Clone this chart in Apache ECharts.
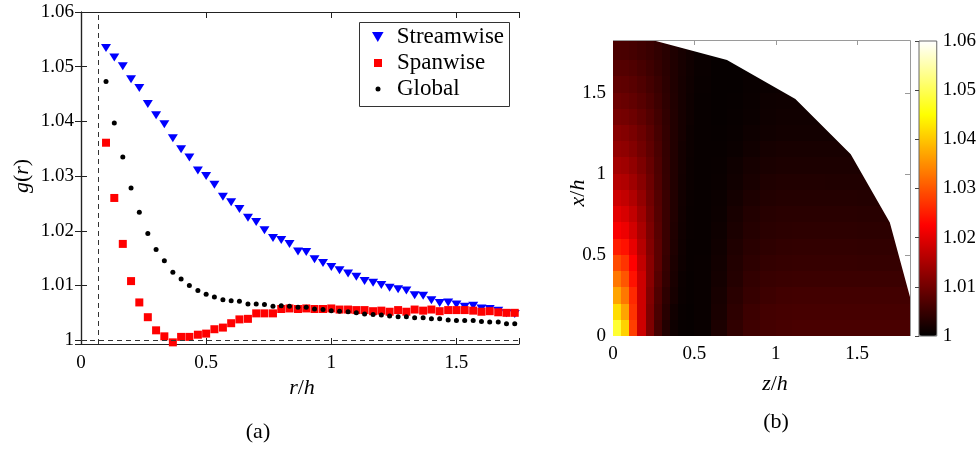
<!DOCTYPE html>
<html><head><meta charset="utf-8">
<script src="https://cdn.jsdelivr.net/npm/echarts@6/dist/echarts.min.js"></script>
<style>html,body{margin:0;padding:0;background:#fff}#c{width:979px;height:450px}</style>
</head><body><div id="c"></div>
<script>
// ---------- panel (a) data ----------
const rOverH = [0.100,0.133,0.167,0.200,0.233,0.267,0.300,0.333,0.367,0.400,
  0.433,0.467,0.500,0.533,0.567,0.600,0.633,0.667,0.700,0.733,
  0.767,0.800,0.833,0.867,0.900,0.933,0.967,1.000,1.033,1.067,
  1.100,1.133,1.167,1.200,1.233,1.267,1.300,1.333,1.367,1.400,
  1.433,1.467,1.500,1.533,1.567,1.600,1.633,1.667,1.700,1.733];
const gStreamwise = [1.0534,1.0517,1.0501,1.0477,1.0461,1.0432,1.0411,1.0395,1.0369,1.0349,
  1.0334,1.0310,1.0300,1.0284,1.0262,1.0252,1.0240,1.0224,1.0216,1.0201,
  1.0187,1.0183,1.0176,1.0162,1.0161,1.0148,1.0141,1.0134,1.0128,1.0122,
  1.0116,1.0108,1.0105,1.0101,1.0096,1.0093,1.0091,1.0082,1.0081,1.0073,
  1.0068,1.0069,1.0065,1.0061,1.0063,1.0058,1.0057,1.0054,1.0049,1.0048];
const gSpanwise = [1.0361,1.0260,1.0176,1.0108,1.0069,1.0042,1.0018,1.0007,0.9996,1.0006,
  1.0006,1.0010,1.0012,1.0020,1.0023,1.0031,1.0038,1.0039,1.0049,1.0049,
  1.0049,1.0057,1.0058,1.0057,1.0058,1.0057,1.0057,1.0058,1.0056,1.0056,
  1.0055,1.0055,1.0053,1.0054,1.0052,1.0055,1.0052,1.0056,1.0054,1.0056,
  1.0053,1.0055,1.0055,1.0055,1.0054,1.0052,1.0053,1.0051,1.0050,1.0050];
const gGlobal = [1.0473,1.0397,1.0335,1.0278,1.0234,1.0195,1.0166,1.0145,1.0124,1.0112,
  1.0100,1.0091,1.0084,1.0079,1.0074,1.0072,1.0071,1.0066,1.0066,1.0065,
  1.0062,1.0063,1.0062,1.0060,1.0060,1.0057,1.0056,1.0054,1.0053,1.0052,
  1.0050,1.0048,1.0047,1.0046,1.0044,1.0043,1.0043,1.0041,1.0041,1.0039,
  1.0039,1.0037,1.0036,1.0036,1.0036,1.0034,1.0033,1.0033,1.0030,1.0030];
const seriesNames = ['Streamwise','Spanwise','Global'];
const cutoffR = 0.073;
const baselineG = 1;

// ---------- panel (b) data ----------
const zEdges = [0,0.05,0.1,0.15,0.2,0.25,0.3,0.35,0.4,0.45,0.5,0.6,0.7,0.8,0.9,1.0,1.1,1.3,1.5,1.7,1.824];
const xEdges = [0,0.1,0.2,0.3,0.4,0.5,0.6,0.7,0.8,0.9,1.0,1.1,1.2,1.3,1.4,1.5,1.6,1.7,1.824];
const gMap = [
 [1.048,1.041,1.028,1.018,1.011,1.006,1.003,1.0012,1.0006,1.0005,1.0008,1.0025,1.0042,1.0055,1.006,1.0063,1.0064,1.0064,1.0064,1.0064],
 [1.042,1.037,1.027,1.018,1.011,1.0065,1.0035,1.0015,1.0007,1.0005,1.0008,1.0022,1.004,1.0053,1.0059,1.0061,1.0062,1.0062,1.0062,1.0062],
 [1.037,1.033,1.026,1.018,1.0115,1.007,1.004,1.002,1.0009,1.0006,1.0008,1.002,1.0036,1.0048,1.0054,1.0057,1.0058,1.0058,1.0058,1.0058],
 [1.033,1.030,1.024,1.018,1.012,1.0075,1.0045,1.0023,1.001,1.0006,1.0008,1.0018,1.0032,1.0044,1.0049,1.0051,1.0052,1.0052,1.0052,1.0052],
 [1.029,1.027,1.0225,1.017,1.012,1.008,1.0048,1.0025,1.0012,1.0007,1.0008,1.0016,1.003,1.004,1.0045,1.0047,1.0048,1.0048,1.0047,1.0047],
 [1.025,1.024,1.0205,1.016,1.0115,1.008,1.005,1.0027,1.0013,1.0007,1.0007,1.0014,1.0027,1.0036,1.0041,1.0043,1.0044,1.0044,1.0043,1.0043],
 [1.022,1.021,1.0185,1.015,1.011,1.0078,1.005,1.0028,1.0014,1.0008,1.0007,1.0012,1.0024,1.0033,1.0037,1.0039,1.004,1.004,1.0039,1.0039],
 [1.020,1.019,1.017,1.014,1.0105,1.0075,1.005,1.003,1.0015,1.0008,1.0007,1.0011,1.0021,1.003,1.0034,1.0036,1.0036,1.0036,1.0035,1.0035],
 [1.018,1.0172,1.0155,1.013,1.010,1.0073,1.005,1.003,1.0016,1.0009,1.0007,1.001,1.0018,1.0026,1.003,1.0032,1.0032,1.0032,1.0031],
 [1.016,1.0155,1.014,1.012,1.0095,1.007,1.0048,1.003,1.0017,1.001,1.0007,1.0009,1.0015,1.0022,1.0027,1.0029,1.0029,1.0028,1.0028],
 [1.0145,1.014,1.0128,1.011,1.009,1.0068,1.0047,1.003,1.0018,1.001,1.0007,1.0008,1.0013,1.0019,1.0023,1.0025,1.0025,1.0025,1.0024],
 [1.013,1.0126,1.0116,1.0101,1.0084,1.0065,1.0046,1.003,1.0018,1.0011,1.0007,1.0007,1.001,1.0015,1.0019,1.0021,1.0021,1.0021],
 [1.012,1.0116,1.0107,1.0094,1.0079,1.0062,1.0045,1.003,1.0019,1.0011,1.0007,1.0006,1.0008,1.0012,1.0015,1.0017,1.0017,1.0017],
 [1.0105,1.0102,1.0095,1.0085,1.0072,1.0058,1.0043,1.003,1.0019,1.0012,1.0007,1.0005,1.0007,1.001,1.0013,1.0015,1.0015],
 [1.0095,1.0092,1.0086,1.0077,1.0066,1.0054,1.0041,1.0029,1.0019,1.0012,1.0007,1.0005,1.0006,1.0009,1.0012,1.0013,1.0013],
 [1.0085,1.0083,1.0078,1.007,1.006,1.005,1.0039,1.0028,1.0019,1.0013,1.0008,1.0005,1.0005,1.0008,1.001,1.0011],
 [1.0075,1.0074,1.007,1.0063,1.0055,1.0046,1.0037,1.0028,1.002,1.0014,1.0009,1.0005,1.0005,1.0007],
 [1.0065,1.0064,1.0061,1.0056,1.005,1.0043,1.0035,1.0027,1.002,1.0015,1.001,1.0006]
];
const boundaryZ = [0.24,0.70,1.12,1.46,1.70,1.824];
const boundaryX = [1.824,1.70,1.46,1.12,0.70,0.24];
const domainMax = 1.824;
const mapTicks = [0.5, 1, 1.5];
const gMin = 1, gMax = 1.06;
const hotColors = ['#000000','#550000','#aa0000','#ff0000','#ff5500','#ffaa00','#ffff00','#ffff80','#ffffff'];

// ---------- build ----------
const FONT = 'Liberation Serif';
const TRI = 'path://M0,0L10,0L5,8.66Z';
const pts = arr => rOverH.map((r, i) => [r, arr[i]]);
const cells = [];
gMap.forEach((row, i) => row.forEach((g, j) => {
  cells.push([zEdges[j], zEdges[j + 1], xEdges[i], xEdges[i + 1], g]);
}));
const fmt = step => v => {
  const k = v / step;
  return Math.abs(k - Math.round(k)) < 1e-6 ? String(+(Math.round(k) * step).toFixed(4)) : '';
};
const tick = (len, col) => ({ show: true, inside: true, length: len, lineStyle: { color: col, width: 1 } });
const labelStyle = (m, extra) => Object.assign({ fontFamily: FONT, fontSize: 19, color: '#000', margin: m }, extra || {});
const rich = {
  i: { fontFamily: FONT, fontSize: 22, fontStyle: 'italic', color: '#000' },
  n: { fontFamily: FONT, fontSize: 22, color: '#000' }
};
const txt = (x, y, text, rot) => ({
  type: 'text', x: x, y: y, rotation: rot || 0, z: 10,
  style: { text: text, rich: rich, align: 'center', verticalAlign: 'middle', font: '22px "Liberation Serif"', fill: '#000' }
});

const chart = echarts.init(document.getElementById('c'), null, { renderer: 'canvas' });
const axBlack = '#222';
const axGray = '#9a9a9a';
const option = {
  animation: false,
  backgroundColor: '#fff',
  grid: [
    { left: 81, top: 12, width: 438, height: 332 },
    { left: 613, top: 40, width: 297, height: 296 },
    { left: 919, top: 41, width: 18, height: 295, show: true, borderColor: '#666', borderWidth: 1, backgroundColor: 'transparent', z: 6 }
  ],
  xAxis: [
    { gridIndex: 0, type: 'value', min: 0, max: 1.75, interval: 0.5, position: 'bottom',
      axisLine: { show: true, lineStyle: { color: axBlack, width: 1.2 } }, axisTick: tick(6, axBlack),
      axisLabel: labelStyle(10, { formatter: fmt(0.5) }), splitLine: { show: false } },
    { gridIndex: 0, type: 'value', min: 0, max: 1.75, interval: 0.5, position: 'top',
      axisLine: { show: true, lineStyle: { color: axBlack, width: 1.2 } }, axisTick: tick(6, axBlack),
      axisLabel: { show: false }, splitLine: { show: false } },
    { gridIndex: 1, type: 'value', min: 0, max: domainMax, interval: 0.5, position: 'bottom',
      axisLine: { show: false }, axisTick: { show: false },
      axisLabel: labelStyle(9, { formatter: fmt(0.5) }), splitLine: { show: false } },
    { gridIndex: 2, type: 'value', min: 0, max: 1, show: false }
  ],
  yAxis: [
    { gridIndex: 0, type: 'value', min: 0.9993, max: 1.06, minInterval: 0.01, maxInterval: 0.01, position: 'left',
      axisLine: { show: true, lineStyle: { color: axBlack, width: 1.2 } }, axisTick: tick(6, axBlack),
      axisLabel: labelStyle(7, { formatter: fmt(0.01) }), splitLine: { show: false } },
    { gridIndex: 0, type: 'value', min: 0.9993, max: 1.06, minInterval: 0.01, maxInterval: 0.01, position: 'right',
      axisLine: { show: true, lineStyle: { color: axBlack, width: 1.2 } }, axisTick: tick(6, axBlack),
      axisLabel: { show: false }, splitLine: { show: false } },
    { gridIndex: 1, type: 'value', min: 0, max: domainMax, interval: 0.5, position: 'left',
      axisLine: { show: false }, axisTick: { show: false },
      axisLabel: labelStyle(7, { formatter: fmt(0.5) }), splitLine: { show: false } },
    { gridIndex: 2, type: 'value', min: gMin, max: gMax, interval: 0.01, position: 'right', zlevel: 1,
      axisLine: { show: false }, axisTick: tick(4, '#444'),
      axisLabel: labelStyle(6, { formatter: fmt(0.01) }), splitLine: { show: false } }
  ],
  visualMap: {
    type: 'continuous', min: gMin, max: gMax, seriesIndex: 3, dimension: 4,
    calculable: false, hoverLink: false, realtime: false, padding: 0,
    itemWidth: 18, itemHeight: 295, left: 919, top: 41, text: null, showLabel: false,
    inRange: { color: hotColors }, z: 5
  },
  legend: [
    { data: [seriesNames[0]], left: 372, top: 25, itemWidth: 12, itemHeight: 10, padding: 0, selectedMode: false, icon: TRI,
      itemStyle: { opacity: 1 },
      textStyle: { fontFamily: FONT, fontSize: 23, color: '#000', lineHeight: 24, padding: [0, 0, 0, 8] }, z: 8 },
    { data: [seriesNames[1]], left: 374, top: 51, itemWidth: 8, itemHeight: 8, padding: 0, selectedMode: false, icon: 'rect',
      itemStyle: { opacity: 1 },
      textStyle: { fontFamily: FONT, fontSize: 23, color: '#000', lineHeight: 24, padding: [0, 0, 0, 10] }, z: 8 },
    { data: [seriesNames[2]], left: 375.5, top: 77, itemWidth: 5, itemHeight: 5, padding: 0, selectedMode: false, icon: 'circle',
      itemStyle: { opacity: 1 },
      textStyle: { fontFamily: FONT, fontSize: 23, color: '#000', lineHeight: 24, padding: [0, 0, 0, 11.5] }, z: 8 }
  ],
  graphic: [
    { type: 'rect', shape: { x: 359.5, y: 22.5, width: 150, height: 84 }, style: { fill: '#fff', stroke: '#333', lineWidth: 1 }, z: 3 },
    txt(22, 176, '{i|g}{n|(}{i|r}{n|)}', Math.PI / 2),
    txt(302, 388, '{i|r}{n|/}{i|h}'),
    txt(258, 432, '{n|(a)}'),
    txt(578, 193, '{i|x}{n|/}{i|h}', Math.PI / 2),
    txt(775, 384, '{i|z}{n|/}{i|h}'),
    txt(776, 422, '{n|(b)}')
  ],
  series: [
    { name: seriesNames[0], type: 'scatter', xAxisIndex: 0, yAxisIndex: 0, data: pts(gStreamwise),
      symbol: TRI, symbolSize: [10, 8], itemStyle: { color: '#0000ff', opacity: 1 }, z: 2, silent: true,
      markLine: { silent: true, symbol: 'none', label: { show: false },
        lineStyle: { type: [5, 4], color: '#333', width: 1, opacity: 1 },
        data: [{ xAxis: cutoffR }, { yAxis: baselineG }] } },
    { name: seriesNames[1], type: 'scatter', xAxisIndex: 0, yAxisIndex: 0, data: pts(gSpanwise),
      symbol: 'rect', symbolSize: 8, itemStyle: { color: '#ff0000', opacity: 1 }, z: 3, silent: true },
    { name: seriesNames[2], type: 'scatter', xAxisIndex: 0, yAxisIndex: 0, data: pts(gGlobal),
      symbol: 'circle', symbolSize: 5, itemStyle: { color: '#000', opacity: 1 }, z: 4, silent: true },
    { name: 'g map', type: 'custom', xAxisIndex: 2, yAxisIndex: 2, data: cells, silent: true, z: 2,
      encode: { x: [0, 1], y: [2, 3] },
      renderItem: function (params, api) {
        const p0 = api.coord([api.value(0), api.value(2)]);
        const p1 = api.coord([api.value(1), api.value(3)]);
        const x0 = Math.round(p0[0]), x1 = Math.round(p1[0]);
        const yb = Math.round(p0[1]), yt = Math.round(p1[1]);
        const c = api.visual('color');
        return { type: 'rect', shape: { x: x0, y: yt, width: x1 - x0, height: yb - yt },
          style: { fill: c, stroke: null } };
      } },
    { name: 'domain mask', type: 'custom', xAxisIndex: 2, yAxisIndex: 2, data: [[0, 0]], silent: true, z: 3,
      renderItem: function (params, api) {
        const poly = boundaryZ.map((z, k) => api.coord([z, boundaryX[k]]));
        poly.push(api.coord([domainMax, domainMax]));
        const tl = api.coord([0, domainMax]), tr = api.coord([domainMax, domainMax]), br = api.coord([domainMax, 0]);
        const ln = { stroke: axGray, lineWidth: 1, fill: null };
        const kids = [
          { type: 'polygon', shape: { points: poly }, style: { fill: '#fff', stroke: null } },
          { type: 'polyline', shape: { points: [[tl[0], tl[1] + 0.5], [tr[0] + 0.5, tr[1] + 0.5], [br[0] + 0.5, br[1]]] }, style: ln }
        ];
        mapTicks.forEach(t => {
          const a = api.coord([t, domainMax]);
          kids.push({ type: 'line', shape: { x1: Math.round(a[0]) + 0.5, y1: a[1], x2: Math.round(a[0]) + 0.5, y2: a[1] + 5 }, style: ln });
          const b = api.coord([domainMax, t]);
          kids.push({ type: 'line', shape: { x1: b[0], y1: Math.round(b[1]) + 0.5, x2: b[0] - 5, y2: Math.round(b[1]) + 0.5 }, style: ln });
        });
        return { type: 'group', children: kids };
      } }
  ]
};
chart.setOption(option);
</script>
</body></html>
